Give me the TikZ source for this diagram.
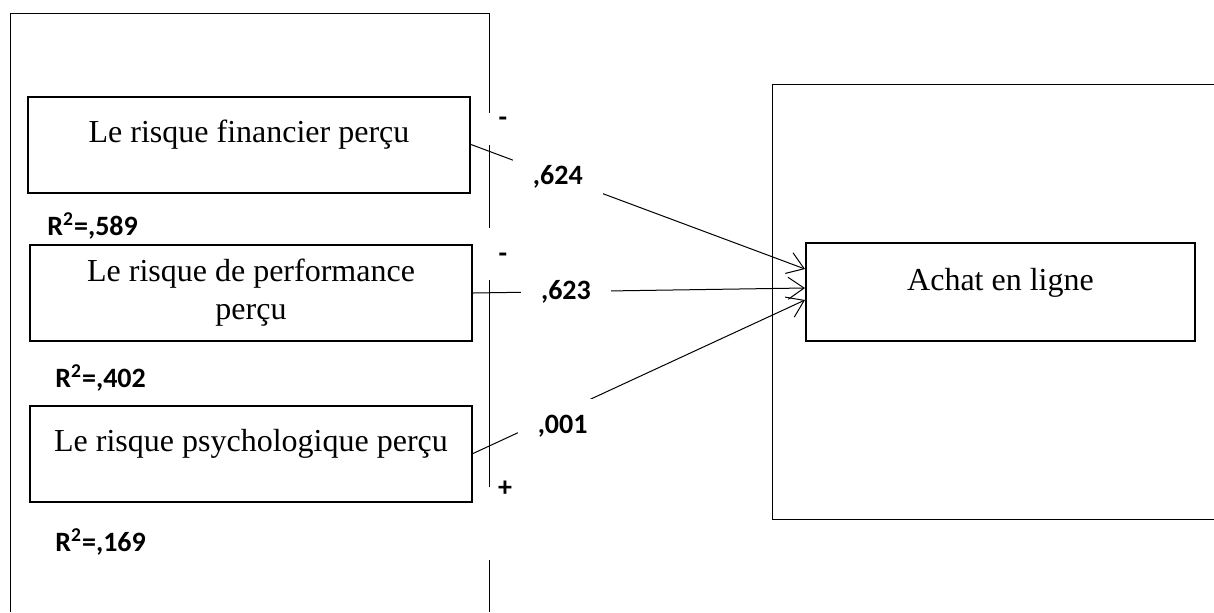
\documentclass[tikz,border=0pt]{standalone}
\usepackage{fontspec}
\setmainfont{Liberation Serif}
\newfontfamily\coeffont{Carlito}
\usetikzlibrary{arrows.meta}
\tikzset{
  riskbox/.style={draw, line width=1pt, minimum width=221pt, minimum height=48pt,
    font=\fontsize{16}{19}\selectfont},
  lifted/.style={text height=12pt, text depth=14pt},
  coef/.style={font=\coeffont\bfseries\fontsize{14}{16}\selectfont, inner sep=0pt},
  wcoef/.style={coef, fill=white, inner xsep=10pt, inner ysep=4pt},
  link/.style={line width=0.5pt, -{Straight Barb[length=8pt,width=11pt]}},
  frame/.style={line width=0.5pt}
}
\begin{document}
\begin{tikzpicture}[x=0.5pt,y=-0.5pt]
    \useasboundingbox (0,0) rectangle (1214,612);

    % left frame, broken on its right side
    \draw[frame] (10,612) -- (10,13) -- (489,13) -- (489,113);
    \draw[frame] (489,145) -- (489,228);
    \draw[frame] (489,280) -- (489,487);
    \draw[frame] (489,560) -- (489,612);

    % right frame
    \draw[frame] (1214,84) -- (772,84) -- (772,519) -- (1214,519);

    \node[riskbox, lifted] (fin) at (249,144.5) {Le risque financier perçu};
    \node[riskbox, align=center] (perf) at (251,293) {Le risque de performance\\perçu};
    \node[riskbox, lifted] (psy) at (251,453.5) {Le risque psychologique perçu};
    \node[riskbox, lifted, minimum width=194.5pt, minimum height=49pt] (achat) at (1000.5,292) {Achat en ligne};

    \node[coef, anchor=west] (r1) at (47,226) {R\textsuperscript{2}=,589};
    \node[coef, anchor=west] (r2) at (55,378) {R\textsuperscript{2}=,402};
    \node[coef, anchor=west] (r3) at (55,542) {R\textsuperscript{2}=,169};

    \node[coef] (s1) at (503,122) {-};
    \node[coef] (s2) at (503,258) {-};
    \node[coef] (s3) at (505,489) {+};

    \draw[link] (fin.east) -- node[wcoef, pos=.26] (c1) {,624} ([yshift=11.5pt]achat.west);
    \draw[link] (perf.east) -- node[wcoef, pos=.28] (c2) {,623} ([yshift=2pt]achat.west);
    \draw[link] (psy.east) -- node[wcoef, pos=.27, yshift=-7pt, inner ysep=8pt] (c3) {,001} ([yshift=-4pt]achat.west);
  \end{tikzpicture}
\end{document}
